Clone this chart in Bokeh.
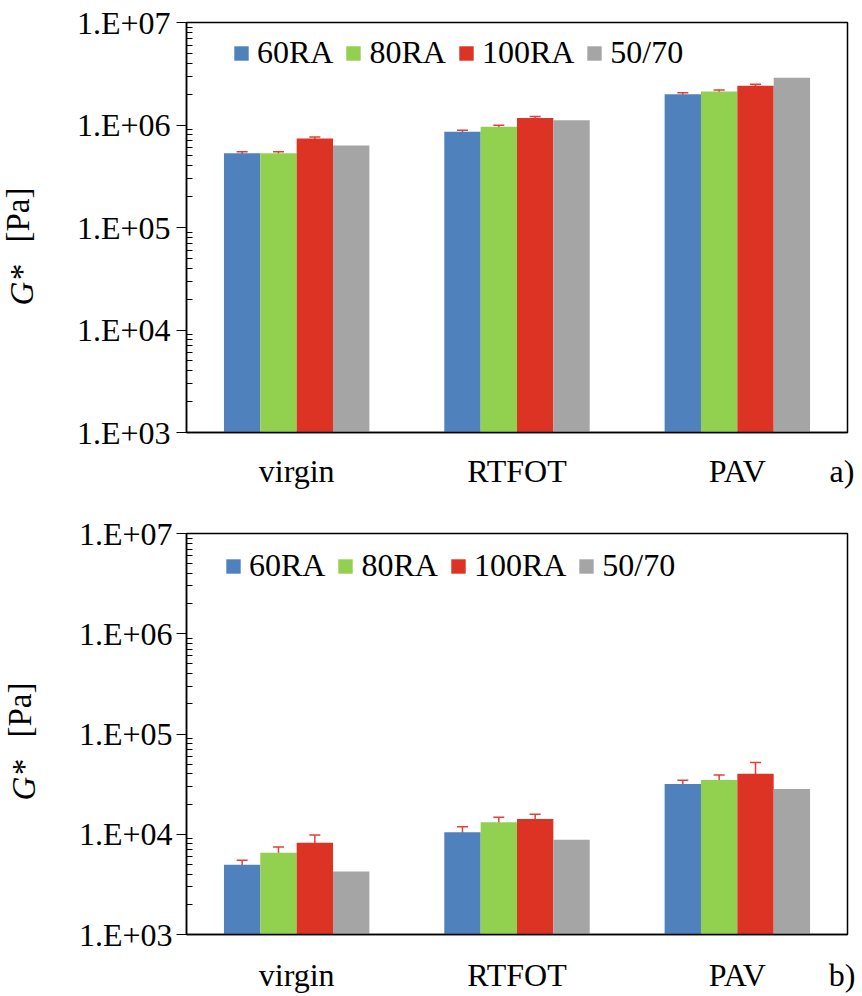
from math import pi
from bokeh.plotting import figure
from bokeh.models import (ColumnDataSource, Range1d, FixedTicker, CustomJSTickFormatter,
                          Legend, LegendItem, Whisker, TeeHead, Label)
from bokeh.layouts import column
from bokeh.embed import file_html
from bokeh.resources import INLINE

# ---------------- data ----------------
categories = ["virgin", "RTFOT", "PAV"]
series = ["60RA", "80RA", "100RA", "50/70"]
colors = ["#4F81BD", "#92D050", "#DC3324", "#A5A5A5"]
err_color = "#E0403A"
y_ticks = [1e3, 1e4, 1e5, 1e6, 1e7]

# panel a) G* [Pa]
a_60ra = [5.3e5, 8.6e5, 1.99e6]
a_80ra = [5.3e5, 9.6e5, 2.12e6]
a_100ra = [7.4e5, 1.17e6, 2.41e6]
a_5070 = [6.3e5, 1.11e6, 2.89e6]
a_err_60ra = [1.8e4, 3.0e4, 7.0e4]
a_err_80ra = [1.8e4, 3.3e4, 7.4e4]
a_err_100ra = [2.5e4, 4.0e4, 8.4e4]

# panel b) G* [Pa]
b_60ra = [4.96e3, 1.05e4, 3.18e4]
b_80ra = [6.53e3, 1.32e4, 3.47e4]
b_100ra = [8.22e3, 1.42e4, 4.01e4]
b_5070 = [4.25e3, 8.8e3, 2.82e4]
b_err_60ra = [5.5e2, 1.35e3, 2.8e3]
b_err_80ra = [9.5e2, 1.6e3, 4.2e3]
b_err_100ra = [1.6e3, 1.6e3, 1.2e4]

FONT = "Liberation Serif"
BAR_W = 0.165
TAG_POS = 2.975   # where the panel tag sits along the category axis


def make_panel(values, errors, tag, left, right, top, bottom, height, legend_xy,
               xstandoff, ystandoff, g_y, pa_y):
    n = len(categories)
    p = figure(x_range=Range1d(0, n), y_axis_type="log", y_range=Range1d(1e3, 1e7),
               width=862, height=height, output_backend="svg", toolbar_location=None,
               min_border_left=left, min_border_right=right,
               min_border_top=top, min_border_bottom=bottom)
    p.xgrid.visible = False
    p.ygrid.visible = False
    p.outline_line_color = "black"
    p.outline_line_width = 1.5
    p.outline_line_alpha = 1.0

    items = []
    for i, (name, vals) in enumerate(zip(series, values)):
        off = (i - 1.5) * BAR_W
        xs = [k + 0.5 + off for k in range(n)]
        src = ColumnDataSource(dict(x=xs, top=vals))
        r = p.vbar(x="x", top="top", bottom=1e3, width=BAR_W, source=src,
                   fill_color=colors[i], line_color=None)
        items.append(LegendItem(label=name, renderers=[r]))
        if i < len(errors):
            errs = errors[i]
            esrc = ColumnDataSource(dict(
                x=xs,
                upper=[v + e for v, e in zip(vals, errs)],
                lower=[v - e for v, e in zip(vals, errs)]))
            w = Whisker(base="x", upper="upper", lower="lower", source=esrc,
                        line_color=err_color, line_width=1.5,
                        upper_head=TeeHead(size=11, line_color=err_color, line_width=1.5),
                        lower_head=TeeHead(size=11, line_color=err_color, line_width=1.5))
            p.add_layout(w)

    legend = Legend(items=items, orientation="horizontal", location=legend_xy,
                    label_text_font=FONT, label_text_font_size="32px",
                    label_text_color="black",
                    glyph_width=18, glyph_height=18, label_standoff=7, spacing=11,
                    padding=0, margin=0, background_fill_alpha=0,
                    border_line_color=None)
    p.add_layout(legend, "center")

    # y axis
    yax = p.yaxis[0]
    yax.ticker = FixedTicker(ticks=y_ticks,
                             minor_ticks=[k * 10 ** m for m in range(3, 7) for k in range(2, 10)])
    yax.formatter = CustomJSTickFormatter(
        code='return "1.E+" + String(Math.round(Math.log10(tick))).padStart(2, "0");')
    yax.major_label_text_font = FONT
    yax.major_label_text_font_size = "32px"
    yax.major_label_text_color = "black"
    yax.major_tick_out = 10
    yax.major_tick_in = 0
    yax.minor_tick_in = 6
    yax.minor_tick_out = 0
    yax.major_label_standoff = ystandoff
    yax.axis_line_color = "black"
    yax.axis_line_width = 1.5
    yax.major_tick_line_color = "black"
    yax.minor_tick_line_color = "black"

    # x axis: category names at the category centres, plus the panel tag
    xax = p.xaxis[0]
    xax.ticker = FixedTicker(ticks=[k + 0.5 for k in range(n)] + [TAG_POS], minor_ticks=[])
    xax.formatter = CustomJSTickFormatter(
        args=dict(names=categories, tag=tag),
        code="""
            const k = Math.floor(tick);
            if (Math.abs(tick - k - 0.5) < 1e-6 && k < names.length) { return names[k]; }
            return tag;
        """)
    xax.major_tick_line_color = None
    xax.minor_tick_line_color = None
    xax.major_tick_out = 0
    xax.major_label_text_font = FONT
    xax.major_label_text_font_size = "32px"
    xax.major_label_text_color = "black"
    xax.major_label_standoff = xstandoff
    xax.axis_line_color = "black"
    xax.axis_line_width = 1.5

    # y title "G* [Pa]" (G* italic) in the left side panel
    p.add_layout(Label(x=-16, y=g_y, x_units="screen", y_units="screen", text="G*",
                       angle=pi / 2, text_font=FONT, text_font_size="33px",
                       text_font_style="italic", text_align="left",
                       text_baseline="middle", text_color="black"), "left")
    p.add_layout(Label(x=16, y=pa_y, x_units="screen", y_units="screen", text="[Pa]",
                       angle=pi / 2, text_font=FONT, text_font_size="33px",
                       text_align="right", text_baseline="middle",
                       text_color="black"), "left")
    return p


pa = make_panel([a_60ra, a_80ra, a_100ra, a_5070], [a_err_60ra, a_err_80ra, a_err_100ra],
                "a)", left=186, right=12, top=22, bottom=66, height=498,
                legend_xy=(46, 361), xstandoff=20, ystandoff=6, g_y=127, pa_y=245)
pb = make_panel([b_60ra, b_80ra, b_100ra, b_5070], [b_err_60ra, b_err_80ra, b_err_100ra],
                "b)", left=181, right=15, top=35, bottom=62, height=498,
                legend_xy=(38, 350), xstandoff=22, ystandoff=4, g_y=134, pa_y=252)

layout = column(pa, pb, spacing=0)
open("out.html", "w").write(file_html(layout, INLINE))
